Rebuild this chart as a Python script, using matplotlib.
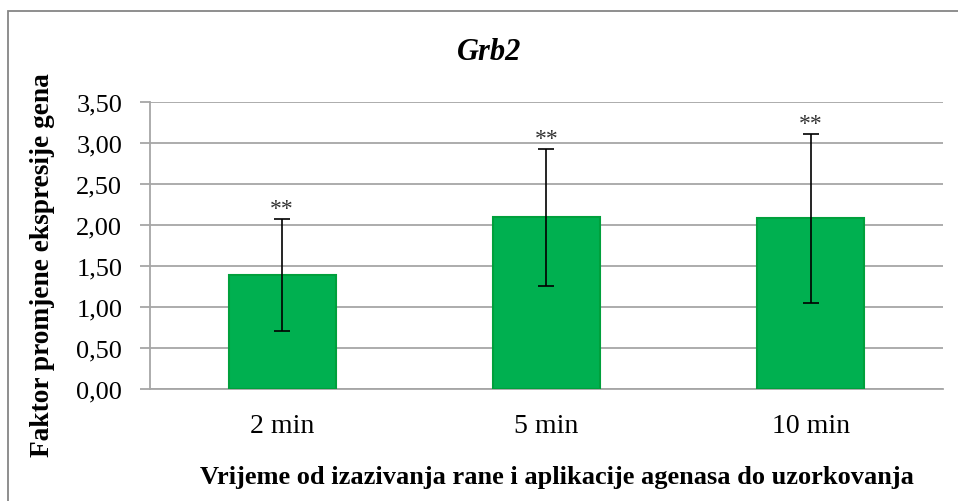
import matplotlib
matplotlib.use("Agg")
import matplotlib.pyplot as plt
from matplotlib.patches import Rectangle
from matplotlib.ticker import FuncFormatter
import numpy as np

# podaci
vremena = ["2 min", "5 min", "10 min"]
faktor = [1.39, 2.09, 2.08]
sd = [0.68, 0.83, 1.03]
oznake = ["**", "**", "**"]
y_ticks = [0.0, 0.5, 1.0, 1.5, 2.0, 2.5, 3.0, 3.5]

plt.rcParams['font.family'] = ['Liberation Serif', 'DejaVu Serif']

W, H = 958, 502
fig = plt.figure(figsize=(W / 100, H / 100), dpi=100)
fig.patch.set_facecolor('white')

# okvir grafikona
okvir = Rectangle((8 / W, -0.2), 1.2, 1.2 - 12 / H, transform=fig.transFigure,
                  fill=False, edgecolor='#868686', linewidth=1.3, clip_on=False)
fig.patches.append(okvir)

ax = fig.add_axes([150 / W, 1 - 390 / H, (942.7 - 150) / W, (390 - 102.7) / H])

x = np.arange(len(vremena))
ax.bar(x, faktor, width=0.405, color='#00B050', edgecolor='#00A03C', linewidth=1.5, zorder=3)
ax.errorbar(x, faktor, yerr=sd, fmt='none', ecolor='black', elinewidth=1.2,
            capsize=6, capthick=1.2, zorder=4)

for xi, f, s, o in zip(x, faktor, sd, oznake):
    ax.annotate(o, (xi, f + s), xytext=(0, 0), textcoords='offset points',
                ha='center', va='bottom', fontsize=17, color='#333333', zorder=5)

ax.set_xlim(-0.5, len(vremena) - 0.5)
ax.set_ylim(0, 3.5)
ax.set_yticks(y_ticks)
ax.yaxis.set_major_formatter(FuncFormatter(lambda v, p: f"{v:.2f}".replace('.', ',')))
ax.set_xticks(x)
ax.set_xticklabels(vremena)

ax.grid(axis='y', color='#A6A6A6', linewidth=1.3, zorder=0)
ax.set_axisbelow(True)
for s in ['top', 'right']:
    ax.spines[s].set_visible(False)
for s in ['left', 'bottom']:
    ax.spines[s].set_color('#A6A6A6')
    ax.spines[s].set_linewidth(1.3)

ax.tick_params(axis='y', length=7, width=1.3, color='#A6A6A6', pad=13, labelsize=19)
ax.tick_params(axis='x', length=0, pad=17, labelsize=20)

fig.text(489 / W, 1 - 53 / H, "Grb2", ha='center', va='center',
         fontsize=22, fontweight='bold', fontstyle='italic')
fig.text(43 / W, 1 - 265 / H, "Faktor promjene ekspresije gena", ha='center', va='center',
         rotation=90, fontsize=19.7, fontweight='bold')
fig.text(557 / W, 1 - 478 / H, "Vrijeme od izazivanja rane i aplikacije agenasa do uzorkovanja",
         ha='center', va='center', fontsize=19, fontweight='bold')

fig.savefig("out.png", dpi=100)
